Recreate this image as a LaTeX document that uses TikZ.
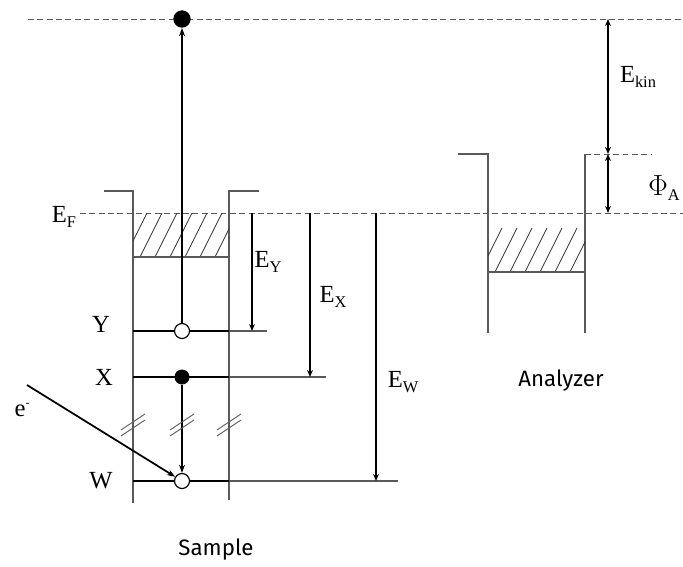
\documentclass[tikz,border=0pt]{standalone}
\usepackage{fontspec}
\setmainfont{Liberation Serif}
\newfontfamily\captfont{Fira Sans}
\usetikzlibrary{arrows.meta, positioning}
\newcommand{\Elev}[1]{E\raisebox{-0.4ex}{\fontsize{14}{14}\selectfont #1}}

\begin{document}
\begin{tikzpicture}[
  x=0.03cm, y=-0.03cm,
  every node/.style={font=\fontsize{21}{24}\selectfont, inner sep=1pt},
  caption/.style={font=\captfont\fontsize{19}{22}\selectfont},
  level/.style={line width=2.4pt},
  tail/.style={line width=0.9pt, gray!70!black},
  wall/.style={line width=1pt, gray!70!black},
  vacuum/.style={dash pattern=on 5pt off 3pt, line width=0.8pt, gray!70!black},
  hatch/.style={line width=0.7pt, black!80},
  fulldot/.style={circle, fill=black, inner sep=0pt, minimum size=0.45cm},
  hole/.style={circle, draw, line width=1pt, fill=white, inner sep=0pt, minimum size=0.45cm},
  arrow/.style={-{Stealth[length=7pt, width=5pt]}, line width=2.2pt},
  energy/.style={-{Stealth[length=6pt, width=5pt]}, line width=2.2pt},
  gap/.style={{Stealth[length=6pt, width=5pt]}-{Stealth[length=6pt, width=5pt]}, line width=2.2pt},
]
  \useasboundingbox (0,0) rectangle (683,566);

  % Vacuum level and Fermi level
  \draw[vacuum] (28,19) -- (683,19);
  \draw[vacuum] (80,213) -- (683,213);
  \node (EF) at (64,217) {\Elev{F}};

  % Sample well
  \draw[wall] (104,191) -- (133,191) -- (133,503);
  \draw[wall] (259,191) -- (229,191) -- (229,500);
  \begin{scope}
    \clip (133,213) rectangle (229,257);
    \foreach \h in {110,125,...,240}
      \draw[hatch] (\h,257) -- ++(22,-44);
  \end{scope}
  \draw[tail] (133,257) -- (229,257);

  % Analyzer well
  \draw[wall] (458,154) -- (488,154) -- (488,333);
  \draw[wall] (585,333) -- (585,154);
  \draw[vacuum] (585,154) -- (652,154);
  \begin{scope}
    \clip (488,213) rectangle (585,272);
    \foreach \h in {465,480,...,600}
      \draw[hatch] (\h,272) -- ++(22,-44);
  \end{scope}
  \draw[tail] (488,272) -- (585,272);

  % Core levels
  \draw[level] (133,331) -- (229,331);
  \draw[tail] (229,331) -- (267,331);
  \draw[level] (133,377) -- (229,377);
  \draw[tail] (229,377) -- (326,377);
  \draw[level] (133,481) -- (229,481);
  \draw[tail] (229,481) -- (398,481);
  \node (Y) at (101,324) {Y};
  \node (X) at (104,377) {X};
  \node (W) at (101,481) {W};

  % Electrons and holes
  \node[fulldot, minimum size=0.52cm] (out) at (182,19) {};
  \node[hole] (holeY) at (182,331) {};
  \node[fulldot] (elX) at (182,377) {};
  \node[hole] (holeW) at (182,481) {};
  \coordinate (ein) at (27,385);

  \draw[arrow] (holeY) -- (out);
  \draw[arrow] (elX) -- (holeW);
  \draw[arrow, line width=1.5pt] (ein) -- (holeW);
  \node (e) at (22,410) {e\raisebox{0.9ex}{\fontsize{10}{10}\selectfont -}};

  % Axis breaks
  \foreach \bx in {133,182,229} {
    \draw[line width=0.8pt, gray!70!black] (\bx-12,430) -- (\bx+12,414);
    \draw[line width=0.8pt, gray!70!black] (\bx-12,436) -- (\bx+12,420);
  }

  % Binding energies
  \coordinate (fY) at (252,213);
  \coordinate (fX) at (310,213);
  \coordinate (fW) at (376,213);
  \draw[energy] (fY) -- (252,331);
  \draw[energy] (fX) -- (310,377);
  \draw[energy] (fW) -- (376,481);
  \node (EY) at (268,262) {\Elev{Y}};
  \node (EX) at (333,297) {\Elev{X}};
  \node (EW) at (403,382) {\Elev{W}};

  % Kinetic energy and analyzer work function
  \coordinate (kinTop) at (608,19);
  \coordinate (kinMid) at (608,154);
  \coordinate (kinBot) at (608,213);
  \draw[gap] (kinTop) -- (kinMid);
  \draw[gap] (kinMid) -- (kinBot);
  \node (Ekin) at (638,77) {\Elev{kin}};
  \node[anchor=east] (PhiA) at (681,188) {{\fontsize{24}{24}\selectfont$\Phi$}\raisebox{-0.4ex}{\fontsize{14}{14}\selectfont A}};

  % Captions
  \node[caption] (sample) at (216,550) {Sample};
  \node[caption] (analyzer) at (561,381) {Analyzer};
\end{tikzpicture}
\end{document}
